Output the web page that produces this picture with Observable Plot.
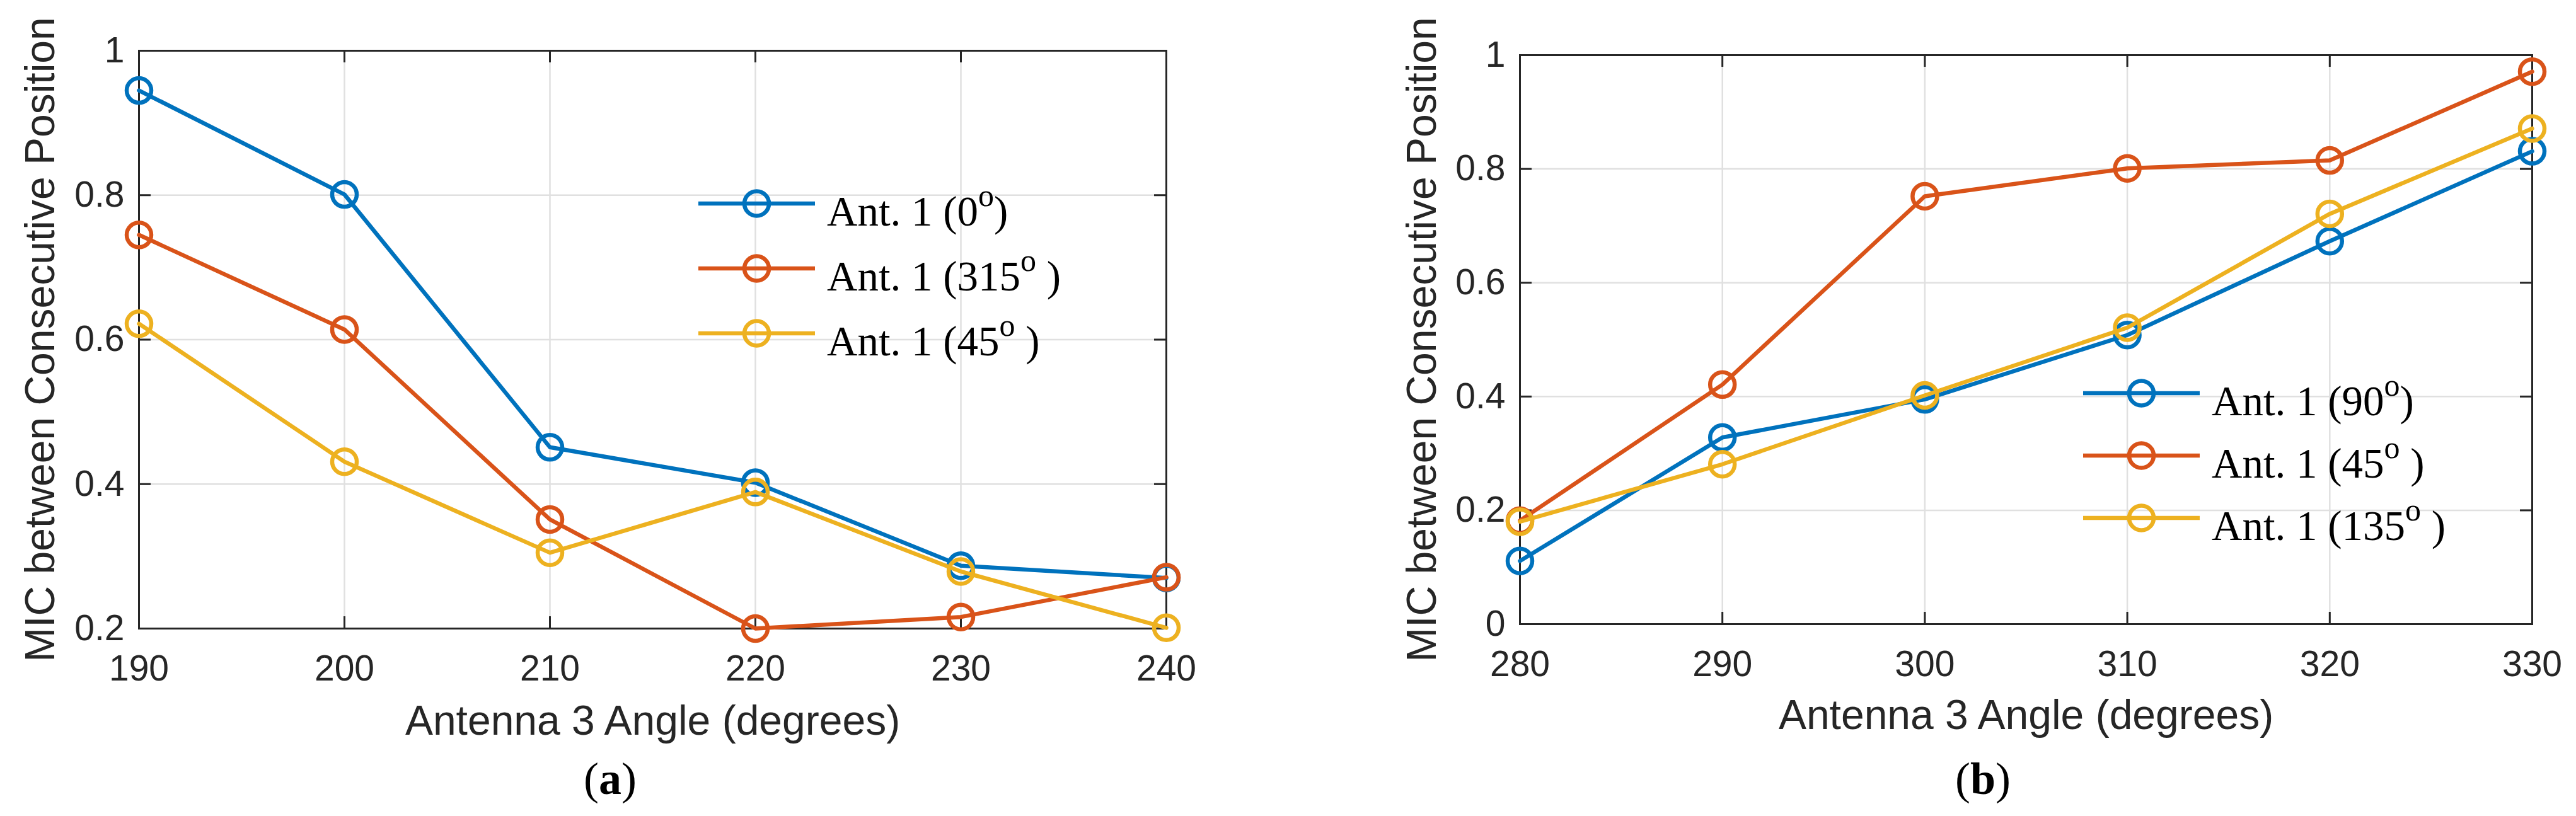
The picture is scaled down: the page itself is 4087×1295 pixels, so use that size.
<!DOCTYPE html>
<html>
<head>
<meta charset="utf-8">
<script src="https://cdn.jsdelivr.net/npm/d3@7"></script>
<script src="https://cdn.jsdelivr.net/npm/@observablehq/plot@0.6"></script>
<style>
  html, body { margin: 0; padding: 0; background: #fff; }
  #chart { position: relative; width: 4087px; height: 1295px; overflow: hidden; background: #fff; }
  #chart svg { position: absolute; overflow: visible; }
  .caption { position: absolute; top: 1200px; width: 200px; text-align: center;
    font-family: "Liberation Serif", "Times New Roman", serif; font-size: 72px; line-height: 1; color: #000; }
</style>
</head>
<body>
<div id="chart"></div>
<script>
"use strict";

// panel (a): Antenna 3 swept 190..240
const anglesA = [190, 200, 210, 220, 230, 240];
const micAnt0 = [0.945, 0.801, 0.451, 0.402, 0.287, 0.270];
const micAnt315 = [0.745, 0.614, 0.351, 0.200, 0.216, 0.271];
const micAnt45a = [0.622, 0.431, 0.305, 0.389, 0.279, 0.201];
const yTicksA = [0.2, 0.4, 0.6, 0.8, 1];
const legendDegA = ["0", "315", "45"];
const legendCloseA = [")", " )", " )"];

// panel (b): Antenna 3 swept 280..330
const anglesB = [280, 290, 300, 310, 320, 330];
const micAnt90 = [0.111, 0.328, 0.395, 0.508, 0.673, 0.831];
const micAnt45b = [0.182, 0.421, 0.752, 0.801, 0.815, 0.971];
const micAnt135 = [0.180, 0.281, 0.402, 0.521, 0.721, 0.871];
const yTicksB = [0, 0.2, 0.4, 0.6, 0.8, 1];
const legendDegB = ["90", "45", "135"];
const legendCloseB = [")", " )", " )"];

const X_LABEL = "Antenna 3 Angle (degrees)";
const Y_LABEL = "MIC between Consecutive Position";

const COLORS = ["#0072BD", "#D95319", "#EDB120"];
const INK = "#262626";
const GRID = "#e0e0e0";
const SANS = "'Liberation Sans', Arial, Helvetica, sans-serif";
const SERIF = "'Liberation Serif', 'Times New Roman', serif";
const TICK = 19;
const LW = 6.5;

const chart = document.getElementById("chart");

function panel(o) {
  const plotW = o.width - o.marginLeft - o.marginRight;
  const plotH = o.height - o.marginTop - o.marginBottom;
  const marks = [
    Plot.gridX(o.xTicks, { stroke: GRID, strokeOpacity: 1, strokeWidth: 2.5 }),
    Plot.gridY(o.yTicks, { stroke: GRID, strokeOpacity: 1, strokeWidth: 2.5 }),
    Plot.frame({ stroke: INK, strokeWidth: 3 }),
    // inward ticks on all four sides, matlab box style
    Plot.tickX(o.xTicks, { x: (d) => d, insetTop: plotH - TICK, stroke: INK, strokeWidth: 3 }),
    Plot.tickX(o.xTicks, { x: (d) => d, insetBottom: plotH - TICK, stroke: INK, strokeWidth: 3 }),
    Plot.tickY(o.yTicks, { y: (d) => d, insetRight: plotW - TICK, stroke: INK, strokeWidth: 3 }),
    Plot.tickY(o.yTicks, { y: (d) => d, insetLeft: plotW - TICK, stroke: INK, strokeWidth: 3 }),
    Plot.axisX(o.xTicks, { anchor: "bottom", tickSize: 0, tickPadding: 42, fontSize: 57,
      tickFormat: (d) => String(d), label: null }),
    Plot.axisY(o.yTicks, { anchor: "left", tickSize: 0, tickPadding: 23, fontSize: 57,
      tickFormat: (d) => String(d), label: null }),
    Plot.text([X_LABEL], { frameAnchor: "bottom", dy: o.xLabelDy, lineAnchor: "bottom",
      textAnchor: "middle", fontSize: 66, fill: INK }),
    Plot.text([Y_LABEL], { frameAnchor: "left", dx: o.yLabelDx, rotate: -90, lineAnchor: "bottom",
      textAnchor: "middle", fontSize: 66, fill: INK }),
  ];
  o.series.forEach((vals, i) => {
    const rows = o.angles.map((a, j) => ({ angle: a, mic: vals[j] }));
    marks.push(Plot.line(rows, { x: "angle", y: "mic", stroke: COLORS[i], strokeWidth: LW }));
    marks.push(Plot.dot(rows, { x: "angle", y: "mic", r: 19.5, stroke: COLORS[i], strokeWidth: LW }));
  });
  const svg = Plot.plot({
    width: o.width, height: o.height,
    marginLeft: o.marginLeft, marginRight: o.marginRight,
    marginTop: o.marginTop, marginBottom: o.marginBottom,
    style: { fontFamily: SANS, fontSize: "57px", color: INK, background: "transparent", overflow: "visible" },
    x: { domain: [o.angles[0], o.angles[o.angles.length - 1]] },
    y: { domain: [o.yTicks[0], o.yTicks[o.yTicks.length - 1]] },
    marks,
  });
  svg.style.left = o.left + "px";
  svg.style.top = "0px";
  chart.appendChild(svg);

  const cap = document.createElement("div");
  cap.className = "caption";
  cap.style.left = (o.captionX - 100) + "px";
  cap.innerHTML = `(<b>${o.caption}</b>)`;
  chart.appendChild(cap);
}

panel({
  left: 0, width: 2040, height: 1200,
  marginLeft: 220, marginRight: 190, marginTop: 80, marginBottom: 203,
  angles: anglesA, xTicks: anglesA, yTicks: yTicksA,
  series: [micAnt0, micAnt315, micAnt45a],
  xLabelDy: 168, yLabelDx: -135, caption: "a", captionX: 968,
});

panel({
  left: 2040, width: 2047, height: 1200,
  marginLeft: 371, marginRight: 70, marginTop: 87, marginBottom: 210,
  angles: anglesB, xTicks: anglesB, yTicks: yTicksB,
  series: [micAnt90, micAnt45b, micAnt135],
  xLabelDy: 166, yLabelDx: -134, caption: "b", captionX: 3146,
});

// legends sit inside the axes, no box, no background
const overlay = d3.select(chart).append("svg")
  .attr("width", 4087).attr("height", 1295)
  .style("left", "0px").style("top", "0px").style("pointer-events", "none");

function legend(o) {
  o.degs.forEach((deg, i) => {
    const y = o.y0 + i * o.gap;
    const g = overlay.append("g");
    g.append("line").attr("x1", o.x1).attr("x2", o.x2).attr("y1", y).attr("y2", y)
      .attr("stroke", COLORS[i]).attr("stroke-width", LW);
    g.append("circle").attr("cx", (o.x1 + o.x2) / 2).attr("cy", y).attr("r", 19.5)
      .attr("fill", "none").attr("stroke", COLORS[i]).attr("stroke-width", LW);
    const t = g.append("text").attr("x", o.textX).attr("y", y + 35)
      .attr("font-family", SERIF).attr("font-size", 67).attr("fill", "#000")
      .style("white-space", "pre");
    t.append("tspan").text(`Ant. 1 (${deg}`);
    t.append("tspan").attr("dy", -31).attr("font-size", 50).text("o");
    t.append("tspan").attr("dy", 31).text(o.closes[i]);
  });
}

legend({ x1: 1108, x2: 1293, textX: 1312, y0: 323, gap: 103, degs: legendDegA, closes: legendCloseA });
legend({ x1: 3305, x2: 3490, textX: 3509, y0: 624, gap: 99, degs: legendDegB, closes: legendCloseB });
</script>
</body>
</html>
